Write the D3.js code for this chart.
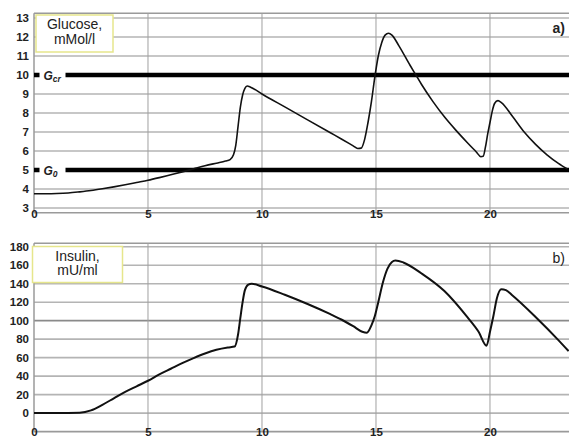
<!DOCTYPE html>
<html><head><meta charset="utf-8">
<script src="https://cdn.jsdelivr.net/npm/d3@7"></script>
<style>body{margin:0;background:#fff}svg{display:block}</style>
</head><body>
<svg id="chart" width="569" height="447"></svg>
<script>
// Time axis (hours) shared by both panels
const timeTicks = [0, 5, 10, 15, 20];
const glucoseTicks = [3, 4, 5, 6, 7, 8, 9, 10, 11, 12, 13];
const insulinTicks = [0, 20, 40, 60, 80, 100, 120, 140, 160, 180];

// Blood glucose, mMol/l
const glucoseTime = [0, 0.5, 1, 1.5, 2, 2.5, 3, 3.5, 4, 4.5, 5, 5.5, 6, 6.5, 7, 7.5, 8, 8.4, 8.6, 8.75, 8.85, 8.95, 9.05, 9.15, 9.25, 9.35, 9.5, 10, 11, 12, 13, 13.5, 14, 14.2, 14.35, 14.5, 14.65, 14.8, 14.95, 15.1, 15.25, 15.4, 15.55, 15.7, 16, 16.5, 16.75, 17, 17.5, 18, 18.5, 19, 19.4, 19.6, 19.7, 19.8, 19.9, 20, 20.1, 20.2, 20.35, 20.5, 21, 21.5, 22, 22.5, 23, 23.4];
const glucoseValues = [3.75, 3.75, 3.76, 3.79, 3.85, 3.92, 4.01, 4.11, 4.22, 4.34, 4.46, 4.6, 4.75, 4.9, 5.06, 5.22, 5.36, 5.47, 5.55, 5.8, 6.3, 7.3, 8.3, 8.95, 9.3, 9.42, 9.36, 9.0, 8.32, 7.64, 6.96, 6.62, 6.27, 6.13, 6.15, 6.6, 7.5, 8.6, 9.9, 11.0, 11.7, 12.1, 12.2, 12.1, 11.55, 10.5, 10.0, 9.5, 8.6, 7.8, 7.1, 6.45, 5.95, 5.7, 5.72, 6.2, 6.9, 7.5, 8.1, 8.5, 8.65, 8.55, 7.8, 7.0, 6.35, 5.8, 5.35, 5.05];

// Plasma insulin, mU/ml
const insulinTime = [0, 1, 2, 2.5, 3, 3.5, 4, 4.5, 5, 5.5, 6, 6.5, 7, 7.5, 8, 8.5, 8.8, 8.95, 9.05, 9.15, 9.25, 9.4, 9.55, 10, 11, 12, 13, 13.5, 14, 14.4, 14.6, 14.8, 14.95, 15.1, 15.3, 15.5, 15.7, 15.85, 16.2, 17, 18, 19, 19.5, 19.85, 20.0, 20.15, 20.3, 20.5, 20.7, 21, 22, 23, 23.45];
const insulinValues = [0, 0, 0.5, 3, 9, 16, 23, 29, 35, 42, 48, 54, 59.5, 64.5, 68.5, 71, 72, 85, 103, 120, 133, 139, 140, 137, 128, 118, 107, 101, 94, 88, 87, 95, 105, 120, 141, 156, 163.5, 165, 163, 151, 132, 104, 88, 73, 88, 105, 124, 134, 133, 127, 104, 79, 67];

// Glucose threshold levels
const thresholdNames = ["cr", "0"];
const thresholdValues = [10, 5];

const svg = d3.select("#chart");
const font = "'Liberation Sans', Arial, sans-serif";

const x = d3.scaleLinear().domain([0, 23.4]).range([34, 567.5]);

function panel(cfg) {
  const y = d3.scaleLinear().domain(cfg.domain).range(cfg.range);
  const g = svg.append("g");
  const top = cfg.range[1], bottom = cfg.range[0];

  // horizontal grid
  g.selectAll("line.h").data(cfg.ticks).join("line")
    .attr("x1", x.range()[0]).attr("x2", 569)
    .attr("y1", d => y(d)).attr("y2", d => y(d))
    .attr("stroke", d => cfg.dark.includes(d) ? "#8a8a8a" : "#b4b4b4")
    .attr("stroke-width", 1.6);
  // frame lines top & bottom
  [top, bottom].forEach(v => g.append("line")
    .attr("x1", x.range()[0]).attr("x2", 569).attr("y1", v).attr("y2", v)
    .attr("stroke", "#9a9a9a").attr("stroke-width", 1.6));
  // vertical grid
  g.selectAll("line.v").data(timeTicks.filter(d => d > 0)).join("line")
    .attr("x1", d => x(d)).attr("x2", d => x(d))
    .attr("y1", top).attr("y2", bottom)
    .attr("stroke", "#a0a0a0").attr("stroke-width", 1);
  g.append("line").attr("x1", x(0)).attr("x2", x(0)).attr("y1", top).attr("y2", bottom)
    .attr("stroke", "#9a9a9a").attr("stroke-width", 1.5);

  // y tick labels
  const ya = d3.axisLeft(y).tickValues(cfg.ticks).tickSize(0).tickPadding(0);
  const yg = g.append("g").attr("transform", "translate(29,0)").call(ya);
  yg.select(".domain").remove();
  yg.selectAll("text").attr("font-family", font).attr("font-size", 11.5)
    .attr("font-weight", "bold").attr("fill", "#222");

  // x tick labels
  const xa = d3.axisBottom(x).tickValues(timeTicks).tickSize(0).tickPadding(0);
  const xg = g.append("g").attr("transform", `translate(0,${cfg.xLabelY})`).call(xa);
  xg.select(".domain").remove();
  xg.selectAll("text").attr("font-family", font).attr("font-size", 11.5)
    .attr("font-weight", "bold").attr("fill", "#222").attr("dy", 0);

  if (cfg.extra) cfg.extra(g, y);

  // curve
  const clipId = "clip" + cfg.name;
  svg.append("clipPath").attr("id", clipId).append("rect")
    .attr("x", x(0)).attr("y", top).attr("width", 569 - x(0)).attr("height", bottom - top);
  const pts = cfg.t.map((t, i) => [t, cfg.v[i]]);
  g.append("path").datum(pts)
    .attr("clip-path", `url(#${clipId})`)
    .attr("fill", "none").attr("stroke", "#111").attr("stroke-width", cfg.lw)
    .attr("stroke-linejoin", "round")
    .attr("d", d3.line().x(d => x(d[0])).y(d => y(d[1])).curve(d3.curveMonotoneX));

  // legend box
  const b = cfg.box;
  g.append("rect").attr("x", b[0]).attr("y", b[1]).attr("width", b[2]).attr("height", b[3])
    .attr("fill", "#fff").attr("stroke", "#e6e68c").attr("stroke-width", 1.5);
  cfg.title.forEach((s, i) => g.append("text")
    .attr("x", b[0] + b[2] / 2).attr("y", b[1] + 14 + i * 14.5)
    .attr("text-anchor", "middle").attr("font-family", font).attr("font-size", 14)
    .attr("fill", "#222").text(s));

  g.append("text").attr("x", 565).attr("y", cfg.tagY).attr("text-anchor", "end")
    .attr("font-family", font).attr("font-size", 14).attr("font-weight", cfg.tagWeight)
    .attr("fill", "#222").text(cfg.tag);
}

panel({
  name: "a",
  domain: [2.75, 13.25], range: [212.75, 13.25],
  ticks: glucoseTicks, dark: [],
  xLabelY: 218,
  t: glucoseTime, v: glucoseValues, lw: 1.6,
  box: [36, 15, 77, 37], title: ["Glucose,", "mMol/l"],
  tag: "a)", tagY: 33, tagWeight: "bold",
  extra: (g, y) => {
    thresholdValues.forEach((v, i) => {
      g.append("line").attr("x1", x(0)).attr("x2", 569)
        .attr("y1", y(v)).attr("y2", y(v))
        .attr("stroke", "#000").attr("stroke-width", 4.5);
      g.append("rect").attr("x", 39.5).attr("y", y(v) - 8).attr("width", 26).attr("height", 16)
        .attr("fill", "#fff");
      const t = g.append("text").attr("x", 43.5).attr("y", y(v) + 4.5)
        .attr("font-family", font).attr("font-size", 12).attr("font-weight", "bold")
        .attr("font-style", "italic").attr("fill", "#222");
      t.append("tspan").text("G");
      t.append("tspan").attr("font-size", 8.5).attr("dy", 2.5).text(thresholdNames[i]);
    });
  }
});

panel({
  name: "b",
  domain: [-20, 183.7], range: [431.6, 243.3],
  ticks: insulinTicks, dark: [100],
  xLabelY: 436,
  t: insulinTime, v: insulinValues, lw: 2,
  box: [32.5, 246.5, 90, 36], title: ["Insulin,", "mU/ml"],
  tag: "b)", tagY: 263, tagWeight: "normal"
});
</script>
</body></html>
